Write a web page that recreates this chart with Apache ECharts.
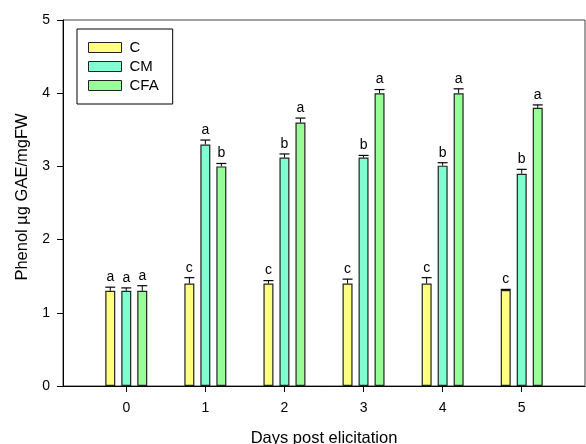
<!DOCTYPE html>
<html>
<head>
<meta charset="utf-8">
<script src="https://cdn.jsdelivr.net/npm/echarts@6/dist/echarts.min.js"></script>
<style>
  html, body { margin: 0; padding: 0; background: #fff; }
  #chart { width: 586px; height: 444px; }
</style>
</head>
<body>
<div id="chart"></div>
<script>
// Days after elicitation
const days = [0, 1, 2, 3, 4, 5];
const dayLabels = ['0', '1', '2', '3', '4', '5'];

// Mean phenol content per treatment
const cValues   = [1.30, 1.40, 1.40, 1.40, 1.40, 1.31];
const cmValues  = [1.30, 3.30, 3.12, 3.12, 3.01, 2.90];
const cfaValues = [1.30, 3.00, 3.60, 4.00, 4.00, 3.80];

// Standard errors
const cErrors   = [0.05, 0.08, 0.04, 0.06, 0.08, 0.01];
const cmErrors  = [0.04, 0.06, 0.05, 0.03, 0.04, 0.06];
const cfaErrors = [0.07, 0.04, 0.06, 0.05, 0.06, 0.04];

// Significance letters
const cLetters   = ['a', 'c', 'c', 'c', 'c', 'c'];
const cmLetters  = ['a', 'a', 'b', 'b', 'b', 'b'];
const cfaLetters = ['a', 'b', 'a', 'a', 'a', 'a'];

const seriesNames = ['C', 'CM', 'CFA'];
const colors = ['#FFFF80', '#80FFD0', '#98FF98'];

const BAR_W = 10;
const BAR_GAP = 6;
const FONT = 'Liberation Sans, Arial, sans-serif';

const groups = [
  { name: seriesNames[0], values: cValues,   errors: cErrors,   letters: cLetters,   color: colors[0] },
  { name: seriesNames[1], values: cmValues,  errors: cmErrors,  letters: cmLetters,  color: colors[1] },
  { name: seriesNames[2], values: cfaValues, errors: cfaErrors, letters: cfaLetters, color: colors[2] }
];

const series = [];
groups.forEach(function (g) {
  series.push({
    name: g.name,
    type: 'bar',
    barWidth: BAR_W,
    barGap: (BAR_GAP / BAR_W * 100) + '%',
    itemStyle: { color: g.color, borderColor: '#222', borderWidth: 1.2 },
    data: days.map(function (d, i) { return [d, g.values[i]]; }),
    silent: true,
    z: 2
  });
});

// Error bars and letters, aligned with the bar offsets
groups.forEach(function (g, gi) {
  const shift = (gi - 1) * (BAR_W + BAR_GAP);
  series.push({
    type: 'custom',
    name: g.name + '-err',
    silent: true,
    z: 3,
    data: days.map(function (d, i) { return [d, g.values[i], g.errors[i], i]; }),
    renderItem: function (params, api) {
      const x = api.value(0);
      const v = api.value(1);
      const e = api.value(2);
      const idx = api.value(3);
      const top = api.coord([x, v]);
      const hi = api.coord([x, v + e]);
      const cx = top[0] + shift;
      const half = BAR_W / 2;
      return {
        type: 'group',
        children: [
          { type: 'line', shape: { x1: cx, y1: top[1], x2: cx, y2: hi[1] }, style: { stroke: '#000', lineWidth: 1 } },
          { type: 'line', shape: { x1: cx - half, y1: hi[1], x2: cx + half, y2: hi[1] }, style: { stroke: '#000', lineWidth: 1.2 } },
          { type: 'text', style: { x: cx, y: hi[1] - 3, text: g.letters[idx], align: 'center', verticalAlign: 'bottom', fill: '#000', font: '14px ' + FONT } }
        ]
      };
    }
  });
});

const chart = echarts.init(document.getElementById('chart'), null, { renderer: 'canvas' });
chart.setOption({
  animation: false,
  backgroundColor: '#fff',
  textStyle: { fontFamily: FONT },
  grid: {
    left: 63, right: 1, top: 20, bottom: 58,
    containLabel: false,
    outerBoundsMode: 'none',
    show: true, borderColor: '#444', borderWidth: 1, backgroundColor: 'transparent'
  },
  legend: {
    data: seriesNames,
    orient: 'vertical',
    left: 77, top: 29,
    padding: [11, 14, 11, 11],
    itemWidth: 33, itemHeight: 10, itemGap: 4,
    borderColor: '#000', borderWidth: 1,
    icon: 'rect',
    textStyle: { fontSize: 15, color: '#000', fontFamily: FONT, padding: [0, 0, 0, 3] },
    itemStyle: { borderColor: '#222', borderWidth: 1 },
    selectedMode: false
  },
  xAxis: {
    type: 'value',
    min: -0.8, max: 5.8,
    name: 'Days post elicitation',
    nameLocation: 'middle',
    nameGap: 44,
    nameTextStyle: { fontSize: 16.5, color: '#000', fontFamily: FONT },
    axisLine: { show: true, onZero: false, lineStyle: { color: '#000', width: 1 } },
    axisTick: { show: true, length: 6, customValues: days, lineStyle: { color: '#000' } },
    axisLabel: { customValues: days, fontSize: 14, color: '#000', margin: 15,
      formatter: function (v) { return dayLabels[days.indexOf(v)]; } },
    splitLine: { show: false }
  },
  yAxis: {
    type: 'value',
    min: 0, max: 5, interval: 1,
    name: 'Phenol µg GAE/mgFW',
    nameLocation: 'middle',
    nameGap: 27,
    nameTextStyle: { fontSize: 16.5, color: '#000', fontFamily: FONT, padding: [0, 0, 0, 12] },
    axisLine: { show: true, onZero: false, lineStyle: { color: '#000', width: 1 } },
    axisTick: { show: true, length: 6, lineStyle: { color: '#000' } },
    axisLabel: { fontSize: 14, color: '#000', margin: 13 },
    splitLine: { show: false }
  },
  series: series
});
</script>
</body>
</html>
